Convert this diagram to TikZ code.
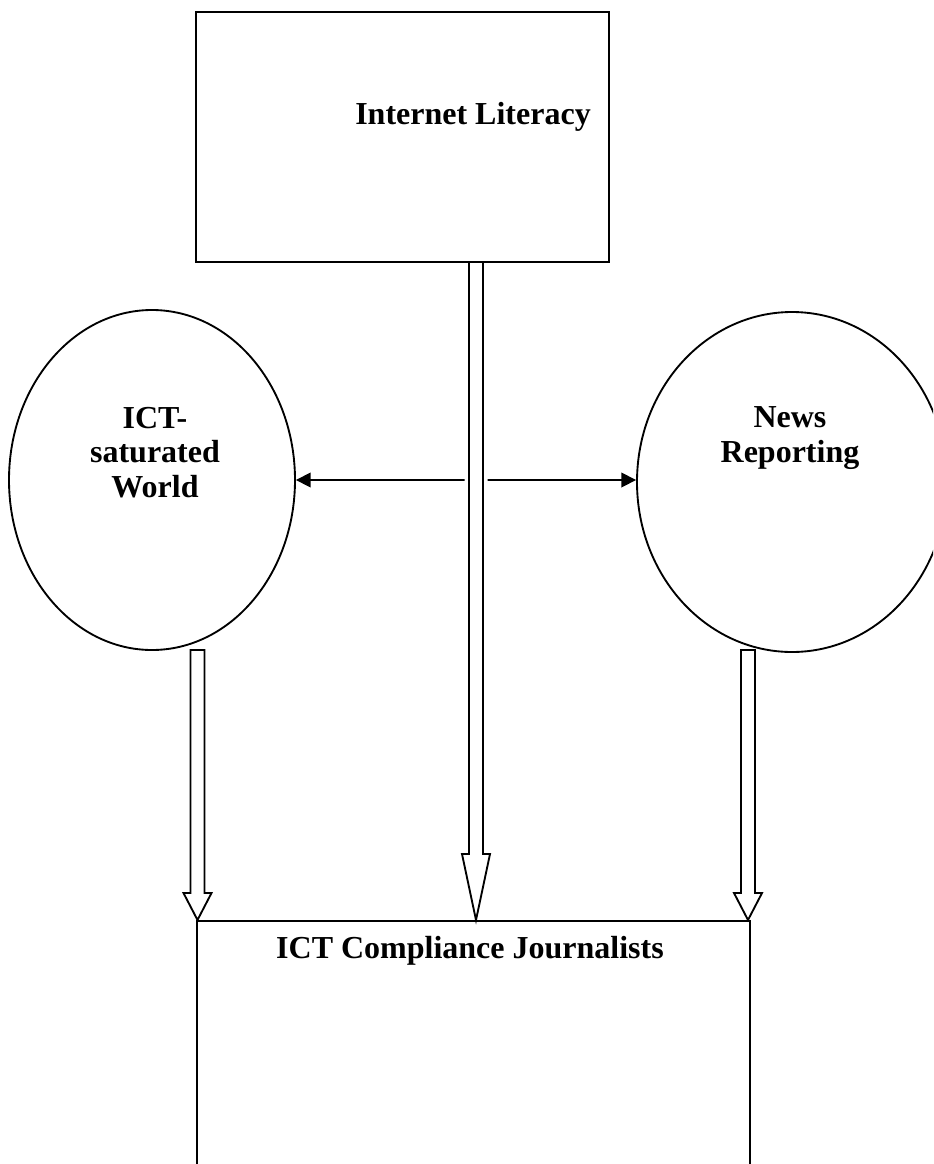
\documentclass[tikz,border=0pt]{standalone}
\usepackage{fontspec}
\setmainfont{Liberation Serif}
\usetikzlibrary{shapes.geometric,arrows.meta,calc,backgrounds}

\newcommand{\hollowdown}[4][]{%
  \draw[hollow,#1] ($(#2)+(-7,0)$) -- ($(#3)+(-7,-#4)$) -- ($(#3)+(-14,-#4)$) -- (#3)
    -- ($(#3)+(14,-#4)$) -- ($(#3)+(7,-#4)$) -- ($(#2)+(7,0)$) -- cycle;}

\begin{document}
\begin{tikzpicture}[x=0.75pt,y=-0.75pt,line width=1.4pt,
  box/.style={draw, rectangle, inner sep=0pt},
  oval/.style={draw, ellipse, inner sep=0pt},
  lbl/.style={font=\fontsize{24}{26}\selectfont\bfseries, align=center, inner sep=0pt, anchor=north},
  hollow/.style={draw, fill=white, line join=miter, line width=1.4pt},
  both/.style={line width=1.2pt, {Triangle[length=11pt,width=11pt]}-{Triangle[length=11pt,width=11pt]}}]
\useasboundingbox (0,0) rectangle (933,1164);
\clip (0,0) rectangle (933,1164);

% boxes and circles
\node[box, minimum width=309.75pt, minimum height=187.5pt] (net) at (402.5,137) {};
\node[oval, minimum width=214.5pt, minimum height=255pt] (ict) at (152,480) {};
\node[oval, minimum width=232.5pt, minimum height=255pt] (news) at (792,482) {};
\node[box, minimum width=414.75pt, minimum height=240pt, anchor=north] (jour) at (473.5,920) {};

% labels
\node[lbl] (netlbl) at (473,101) {Internet Literacy};
\node[lbl] (ictlbl) at (155,406) {ICT-\\saturated\\World};
\node[lbl] (newslbl) at (790,406) {News\\Reporting};
\node[lbl] (jourlbl) at (470,935) {ICT Compliance Journalists};

\coordinate (cs) at (476,262);
\coordinate (ls) at (197.5,650);
\coordinate (rs) at (748,650);

\begin{scope}[on background layer]
\draw[both] (ict.east) -- (ict.east -| news.west);
\hollowdown[preaction={draw=white,line width=6.75pt}]{cs}{cs |- jour.north}{66}
\hollowdown{ls}{ls |- jour.north}{27}
\hollowdown{rs}{rs |- jour.north}{27}
\end{scope}
\end{tikzpicture}
\end{document}
